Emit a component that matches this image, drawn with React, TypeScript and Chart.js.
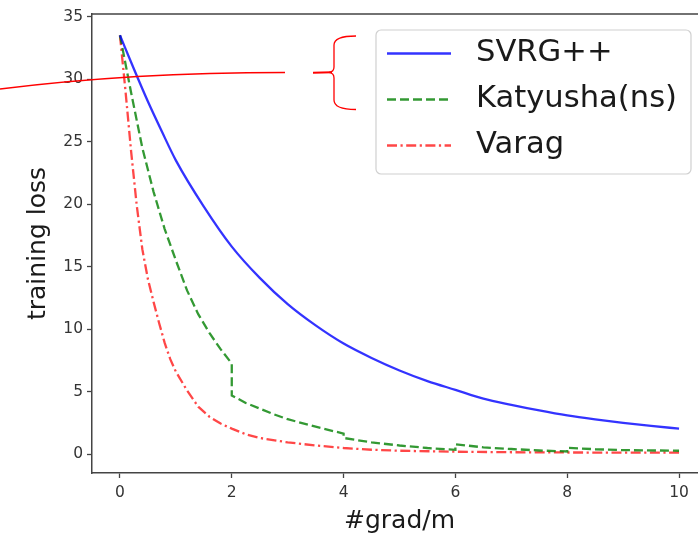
import React, { useEffect, useRef } from "react";
import { Chart, registerables } from "chart.js";

Chart.register(...registerables);

// ---- data ----
const svrgX = [0, 0.25, 0.5, 0.75, 1, 1.5, 2, 2.5, 3, 3.5, 4, 4.5, 5, 5.5, 6, 6.5, 7, 7.5, 8, 8.5, 9, 9.5, 10];
const svrgY = [33.5, 30.8, 28.2, 25.8, 23.5, 19.8, 16.6, 14.1, 12.0, 10.3, 8.85, 7.7, 6.7, 5.85, 5.15, 4.45, 3.95, 3.5, 3.1, 2.78, 2.5, 2.26, 2.05];

const katX = [0, 0.2, 0.4, 0.6, 0.8, 1.0, 1.2, 1.4, 1.6, 1.8, 2.0, 2.0, 2.25, 2.5, 2.75, 3.0, 3.5, 4.0, 4.0, 4.5, 5.0, 5.5, 6.0, 6.0, 6.5, 7.0, 7.5, 8.0, 8.0, 8.5, 9.0, 10.0];
const katY = [33.5, 28.9, 24.5, 21.0, 18.0, 15.5, 13.1, 11.2, 9.7, 8.4, 7.25, 4.7, 4.1, 3.65, 3.2, 2.8, 2.2, 1.65, 1.3, 0.95, 0.7, 0.5, 0.35, 0.8, 0.55, 0.42, 0.3, 0.22, 0.52, 0.4, 0.33, 0.28];

const varagX = [0, 0.1, 0.2, 0.3, 0.4, 0.5, 0.6, 0.7, 0.8, 0.9, 1.0, 1.2, 1.4, 1.6, 1.8, 2.0, 2.25, 2.5, 3.0, 3.5, 4.0, 4.5, 5.0, 6.0, 7.0, 8.0, 9.0, 10.0];
const varagY = [33.5, 29.0, 24.2, 19.9, 16.4, 14.0, 12.2, 10.5, 8.9, 7.6, 6.6, 5.1, 3.8, 3.0, 2.45, 2.05, 1.6, 1.3, 0.95, 0.7, 0.5, 0.36, 0.28, 0.2, 0.16, 0.14, 0.13, 0.13];

const seriesNames = ["SVRG++", "Katyusha(ns)", "Varag"];
const xTitle = "#grad/m";
const yTitle = "training loss";

const FONT = "'DejaVu Sans', sans-serif";
const BLUE = "rgba(0,0,255,0.8)";
const GREEN = "rgba(0,128,0,0.8)";
const RED = "rgba(255,0,0,0.72)";
const LW = 2.3;
const DASH_G = [9, 4];
const DASH_R = [10, 3.5, 2.2, 3.5];

const pts = (xs: number[], ys: number[]) => xs.map((x, i) => ({ x, y: ys[i] }));

const framePlugin = {
  id: "frame",
  afterDatasetsDraw(chart: any) {
    const { ctx, chartArea } = chart;
    ctx.save();
    ctx.strokeStyle = "#444";
    ctx.lineWidth = 1.5;
    ctx.beginPath();
    ctx.moveTo(chartArea.left, chartArea.top);
    ctx.lineTo(chartArea.right, chartArea.top);
    ctx.lineTo(chartArea.right, chartArea.bottom);
    ctx.stroke();
    ctx.restore();
  },
};

const legendPlugin = {
  id: "customLegend",
  afterDraw(chart: any) {
    const { ctx } = chart;
    ctx.save();
    const bx = 376, by = 30, bw = 315, bh = 144;
    ctx.fillStyle = "rgba(255,255,255,0.85)";
    ctx.strokeStyle = "#d0d0d0";
    ctx.lineWidth = 1.2;
    ctx.beginPath();
    (ctx as any).roundRect(bx, by, bw, bh, 5);
    ctx.fill();
    ctx.stroke();
    const colors = [BLUE, GREEN, RED];
    const dashes = [[], DASH_G, DASH_R];
    const rows = [53.5, 99.5, 145.5];
    for (let i = 0; i < 3; i++) {
      ctx.strokeStyle = colors[i];
      ctx.lineWidth = LW;
      ctx.setLineDash(dashes[i]);
      ctx.beginPath();
      ctx.moveTo(387, rows[i]);
      ctx.lineTo(451, rows[i]);
      ctx.stroke();
      ctx.setLineDash([]);
      ctx.fillStyle = "#1a1a1a";
      ctx.font = `30.6px ${FONT}`;
      ctx.textBaseline = "middle";
      ctx.textAlign = "left";
      ctx.fillText(seriesNames[i], 476, rows[i]);
    }
    ctx.restore();
  },
};

const annotationPlugin = {
  id: "handAnnotation",
  afterDraw(chart: any) {
    const { ctx } = chart;
    ctx.save();
    ctx.strokeStyle = "#ff0000";
    ctx.lineWidth = 1.3;
    ctx.beginPath();
    ctx.moveTo(0, 89);
    ctx.quadraticCurveTo(132, 72.5, 285, 72.5);
    ctx.stroke();
    // brace
    ctx.beginPath();
    ctx.moveTo(356, 36);
    ctx.quadraticCurveTo(334, 36, 334, 45);
    ctx.lineTo(334, 67);
    ctx.quadraticCurveTo(334, 72, 329, 72.3);
    ctx.moveTo(329, 72.3);
    ctx.quadraticCurveTo(334, 73, 334, 78);
    ctx.lineTo(334, 100);
    ctx.quadraticCurveTo(334, 109.5, 356, 109.5);
    ctx.stroke();
    ctx.lineWidth = 2;
    ctx.beginPath();
    ctx.moveTo(313, 72.7);
    ctx.lineTo(332, 72.2);
    ctx.stroke();
    ctx.restore();
  },
};

export default function App() {
  const ref = useRef<HTMLCanvasElement | null>(null);
  useEffect(() => {
    if (!ref.current) return;
    const chart = new Chart(ref.current, {
      type: "line",
      data: {
        datasets: [
          {
            label: seriesNames[0],
            data: pts(svrgX, svrgY),
            borderColor: BLUE,
            borderWidth: LW,
            pointRadius: 0,
            cubicInterpolationMode: "monotone",
            fill: false,
          },
          {
            label: seriesNames[1],
            data: pts(katX, katY),
            borderColor: GREEN,
            borderWidth: LW,
            borderDash: DASH_G,
            pointRadius: 0,
            tension: 0,
            fill: false,
          },
          {
            label: seriesNames[2],
            data: pts(varagX, varagY),
            borderColor: RED,
            borderWidth: LW,
            borderDash: DASH_R,
            pointRadius: 0,
            tension: 0,
            fill: false,
          },
        ],
      },
      options: {
        responsive: false,
        devicePixelRatio: 1,
        animation: false,
        layout: { padding: { top: 14, right: 13, left: 0, bottom: 0 } },
        plugins: { legend: { display: false }, tooltip: { enabled: false } },
        scales: {
          x: {
            type: "linear",
            min: -0.5,
            max: 10.5,
            afterFit: (s: any) => { s.height = 63; },
            grid: { drawOnChartArea: false, drawTicks: true, tickLength: 5, color: "#444", tickWidth: 1.3 },
            border: { display: true, color: "#444", width: 1.5 },
            ticks: { stepSize: 2, includeBounds: false, padding: 6, color: "#333", font: { family: FONT, size: 15.5 }, maxRotation: 0 },
            title: { display: true, text: xTitle, color: "#1a1a1a", font: { family: FONT, size: 25, lineHeight: 1.2 }, padding: { top: 0, bottom: 0 } },
          },
          y: {
            type: "linear",
            min: -1.5,
            max: 35.2,
            afterFit: (s: any) => { s.width = 92; },
            grid: { drawOnChartArea: false, drawTicks: true, tickLength: 5, color: "#444", tickWidth: 1.3 },
            border: { display: true, color: "#444", width: 1.5 },
            ticks: { stepSize: 5, includeBounds: false, padding: 4, color: "#333", font: { family: FONT, size: 15.5 } },
            title: { display: true, text: yTitle, color: "#1a1a1a", font: { family: FONT, size: 25, lineHeight: 1.2 }, padding: { top: 23, bottom: 0 } },
          },
        },
      },
      plugins: [framePlugin, legendPlugin, annotationPlugin],
    } as any);
    return () => chart.destroy();
  }, []);
  return (
    <div style={{ position: "fixed", left: 0, top: 0, width: 698, height: 536, overflow: "hidden", background: "#fff" }}>
      <canvas ref={ref} width={720} height={536} style={{ display: "block", width: 720, height: 536 }} />
    </div>
  );
}
